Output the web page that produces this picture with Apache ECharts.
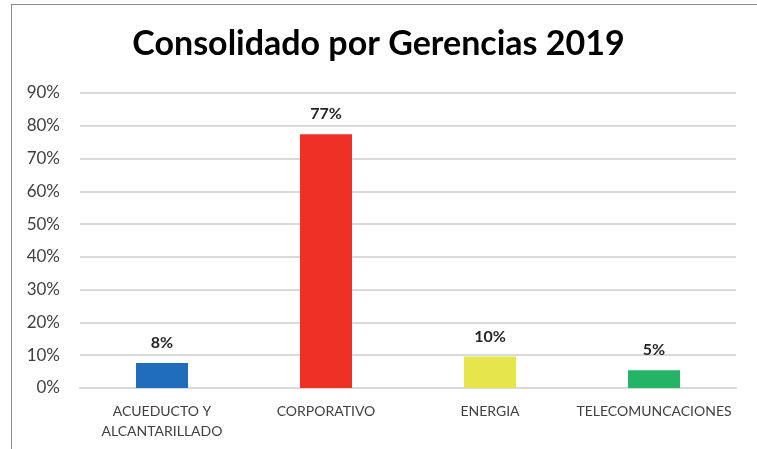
<!DOCTYPE html>
<html>
<head lang="es">
    <meta charset="UTF-8">
    <title>Consolidado por Gerencias 2019</title>
    <script src="https://cdn.jsdelivr.net/npm/echarts@6/dist/echarts.min.js"></script>
    <style>
        html, body { margin: 0; padding: 0; background: #fff; }
        #frame { position: absolute; left: 11px; top: 4px; width: 760px; height: 460px;
                 border-left: 1px solid #8c8c8c; border-top: 1px solid #8c8c8c; pointer-events: none; }
        #chart { width: 757px; height: 449px; }
    </style>
</head>
<body>

<div id="chart"></div>
<div id="frame"></div>

<script>
    var categories = ['ACUEDUCTO Y\nALCANTARILLADO', 'CORPORATIVO', 'ENERGIA', 'TELECOMUNCACIONES'];
    var values = [7.6, 77.4, 9.6, 5.4];
    var barColors = ['#1f6dbb', '#ee3124', '#e6e64a', '#23b466'];

    var chart = echarts.init(document.getElementById('chart'));

    var option = {
        animation: false,
        title: {
            text: 'Consolidado por Gerencias 2019',
            left: 'center',
            top: 22,
            textStyle: {
                fontFamily: 'Lato',
                fontWeight: 'bold',
                fontSize: 34,
                color: '#000'
            }
        },
        grid: {
            left: 80,
            right: 21,
            top: 93,
            bottom: 61
        },
        xAxis: {
            type: 'category',
            data: categories,
            axisLine: { show: true, lineStyle: { color: '#d9d9d9', width: 2 } },
            axisTick: { show: false },
            axisLabel: {
                interval: 0,
                color: '#404040',
                fontFamily: 'Lato',
                fontSize: 14,
                lineHeight: 20,
                margin: 13
            }
        },
        yAxis: {
            type: 'value',
            min: 0,
            max: 90,
            interval: 10,
            axisLine: { show: false },
            axisTick: { show: false },
            splitLine: { lineStyle: { color: '#d9d9d9', width: 2 } },
            axisLabel: {
                color: '#404040',
                fontFamily: 'Lato',
                fontSize: 17,
                margin: 20,
                formatter: '{value}%'
            }
        },
        series: [{
            type: 'bar',
            barWidth: 52,
            data: values.map(function (v, i) {
                return { value: v, itemStyle: { color: barColors[i] } };
            }),
            label: {
                show: true,
                position: 'top',
                distance: 12,
                color: '#262626',
                fontFamily: 'Lato',
                fontWeight: 'bold',
                fontSize: 16,
                formatter: function (p) { return Math.round(p.value) + '%'; }
            }
        }]
    };

    chart.setOption(option);
</script>
</body>
</html>
